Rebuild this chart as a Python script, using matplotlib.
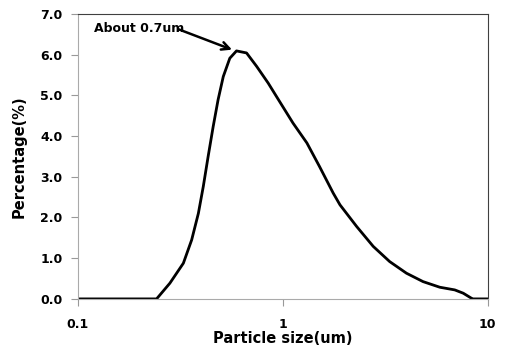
import matplotlib
matplotlib.use("Agg")
import matplotlib.pyplot as plt
from matplotlib.ticker import FixedLocator, FixedFormatter, NullLocator

# particle size distribution
size_um = [0.1, 0.2, 0.242, 0.281, 0.327, 0.359, 0.387, 0.409, 0.432, 0.457,
           0.483, 0.512, 0.551, 0.594, 0.665, 0.745, 0.848, 0.931, 1.12, 1.31,
           1.51, 1.76, 1.90, 2.29, 2.76, 3.32, 4.01, 4.83, 5.83, 6.90,
           7.59, 8.32, 8.47, 10.0]
percent = [0.0, 0.0, 0.0, 0.386, 0.877, 1.45, 2.10, 2.76, 3.50, 4.23,
           4.89, 5.46, 5.91, 6.09, 6.04, 5.71, 5.30, 4.97, 4.32, 3.83,
           3.25, 2.60, 2.31, 1.78, 1.29, 0.917, 0.631, 0.425, 0.287, 0.221,
           0.14, 0.017, 0.0, 0.0]

yticks = [0.0, 1.0, 2.0, 3.0, 4.0, 5.0, 6.0, 7.0]
xticks = [0.1, 1, 10]
xlabels = ["0.1", "1", "10"]

fig = plt.figure(figsize=(5.06, 3.55), dpi=100)
ax = fig.add_axes([0.154, 0.158, 0.81, 0.803])

ax.plot(size_um, percent, color="black", lw=2.0, solid_joinstyle="round")

ax.set_xscale("log")
ax.set_xlim(0.1, 10)
ax.set_ylim(0, 7)
ax.xaxis.set_major_locator(FixedLocator(xticks))
ax.xaxis.set_major_formatter(FixedFormatter(xlabels))
ax.xaxis.set_minor_locator(NullLocator())
ax.set_yticks(yticks)
ax.set_yticklabels(["%.1f" % v for v in yticks])

for lab in ax.get_xticklabels() + ax.get_yticklabels():
    lab.set_fontweight("bold")
    lab.set_fontsize(9)
ax.tick_params(axis="y", direction="out", length=5, color="#999999", pad=6)
ax.tick_params(axis="x", direction="out", length=5, color="#999999", pad=9)

ax.spines["left"].set_color("#aaaaaa")
ax.spines["bottom"].set_color("#aaaaaa")
ax.spines["top"].set_color("#404040")
ax.spines["right"].set_color("#404040")

ax.set_xlabel("Particle size(um)", fontsize=10.5, fontweight="bold", labelpad=0)
ax.set_ylabel("Percentage(%)", fontsize=10.5, fontweight="bold", labelpad=10)

ax.text(0.12, 6.63, "About 0.7um", fontsize=9, fontweight="bold", va="center")
ax.annotate("", xy=(0.565, 6.12), xytext=(0.31, 6.62),
            arrowprops=dict(arrowstyle="->", color="black", lw=1.8,
                            shrinkA=0, shrinkB=0, mutation_scale=14),
            annotation_clip=False)

fig.savefig("out.png", dpi=100)
